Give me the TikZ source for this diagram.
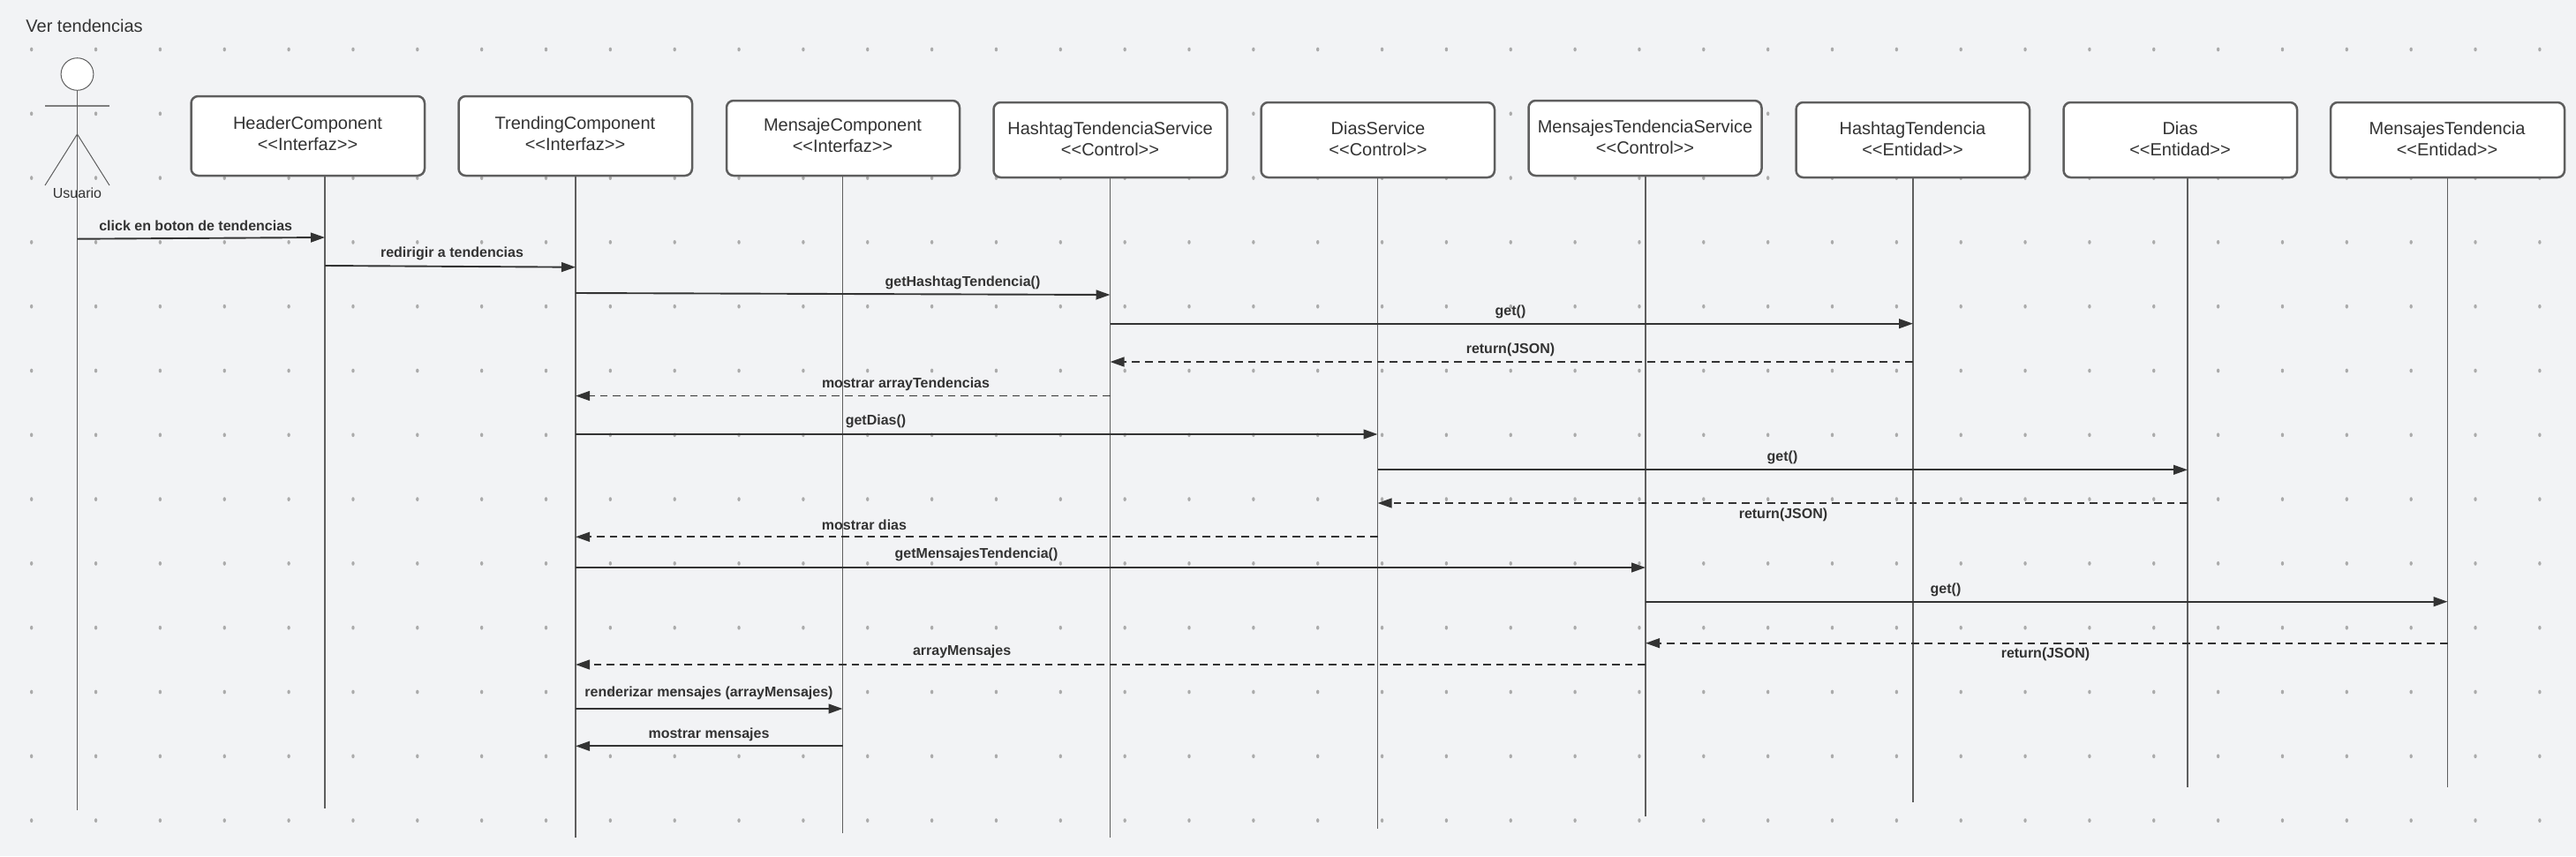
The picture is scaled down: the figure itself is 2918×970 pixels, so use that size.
\documentclass[tikz,border=0pt]{standalone}
\usepackage{fontspec}
\setmainfont{Liberation Sans}
\usetikzlibrary{arrows.meta}
\definecolor{bgc}{HTML}{F2F3F5}
\definecolor{inkc}{HTML}{333333}
\definecolor{linec}{HTML}{5E5E5E}
\definecolor{dotc}{HTML}{ABABAB}
\tikzset{
  x=0.5pt,y=-0.5pt,
  boxn/.style={draw=linec,line width=1.25pt,rounded corners=4pt,fill=white,inner sep=0pt},
  boxtxt/.style={text=inkc,align=center,font=\fontsize{10}{12}\selectfont,inner sep=0pt},
  titletxt/.style={text=inkc,font=\fontsize{10}{12}\selectfont,inner sep=0pt,anchor=west},
  actortxt/.style={text=inkc,font=\fontsize{8}{10}\selectfont,inner sep=0pt},
  msgtxt/.style={text=inkc,font=\bfseries\fontsize{8}{10}\selectfont,inner sep=0pt},
  lifeline/.style={draw=linec,line width=0.6pt},
  actorline/.style={draw=linec,line width=0.5pt},
  callmsg/.style={draw=inkc,line width=0.95pt,-{Triangle[length=8pt,width=5.4pt]}},
  retmsg/.style={draw=inkc,line width=0.95pt,dash pattern=on 4.3pt off 3pt,-{Triangle[length=8pt,width=5.4pt]}},
}
% id, x1,y1,x2,y2, text x, text y, line 1, line 2
\newcommand{\lifebox}[9]{%
  \node[boxn,minimum width={(#4-#2)*0.5pt},minimum height={(#5-#3)*0.5pt}] (#1) at ({(#2+#4)/2},{(#3+#5)/2}) {};
  \node[boxtxt] (#1t) at (#6,#7) {#8\\#9};
}
\newcommand{\life}[4]{%
  \coordinate (#1top) at (#2,#3);
  \coordinate (#1end) at (#2,#4);
  \draw[lifeline] (#1top) -- (#1end);
}
% id, style, from x,y, to x,y, label, label x,y
\newcommand{\msg}[9]{%
  \coordinate (#1a) at (#3,#4);
  \coordinate (#1b) at (#5,#6);
  \draw[#2] (#1a) -- (#1b);
  \node[msgtxt] (#1l) at (#8,{#9+1.5}) {#7};
}
\begin{document}
\begin{tikzpicture}
\useasboundingbox (0,0) rectangle (2918,970);
\fill[bgc] (0,0) rectangle (2918,970);
\foreach \i in {0,...,39}{
  \foreach \j in {0,...,12}{
    \fill[dotc] ({35.7+72.85*\i},{56+72.8*\j}) ellipse [x radius=1.7,y radius=2.4];
  }
}
\node[titletxt] (title) at (29,29) {Ver tendencias};
% actor
\draw[actorline,fill=white] (87.5,84) ellipse [x radius=18.4,y radius=18.3];
\coordinate (arml) at (51,120);
\coordinate (armr) at (124,120);
\coordinate (hip) at (87.5,152);
\coordinate (legl) at (51,210);
\coordinate (legr) at (124,210);
\draw[lifeline,line width=0.7pt,draw=linec!80] (arml) -- (armr);
\draw[actorline] (legl) -- (hip) -- (legr);
% lifelines
\life{la}{87.5}{102}{918}
\life{lb}{368}{199}{916}
\life{lc}{652}{199}{949}
\life{ld}{954.5}{199}{944}
\life{le}{1257.5}{201}{949}
\life{lf}{1560.5}{201}{938.5}
\life{lg}{1864}{199}{925}
\life{lh}{2167}{201}{908.5}
\life{li}{2478}{201}{892}
\life{lj}{2772.5}{201}{892}
\node[actortxt] (usuario) at (87.5,219) {Usuario};
% boxes
\lifebox{b1}{216.5}{109}{481}{199}{348.5}{151}{HeaderComponent}{<{}<Interfaz>{}>}
\lifebox{b2}{519.5}{109}{784}{199}{651.5}{151}{TrendingComponent}{<{}<Interfaz>{}>}
\lifebox{b3}{823}{114}{1087}{199}{954.5}{153}{MensajeComponent}{<{}<Interfaz>{}>}
\lifebox{b4}{1125.5}{116}{1390}{201}{1257.5}{157}{HashtagTendenciaService}{<{}<Control>{}>}
\lifebox{b5}{1428.5}{116}{1693}{201}{1561}{157}{DiasService}{<{}<Control>{}>}
\lifebox{b6}{1731.5}{114}{1995.5}{199}{1863.5}{155}{MensajesTendenciaService}{<{}<Control>{}>}
\lifebox{b7}{2034.5}{116}{2299}{201}{2166.5}{157}{HashtagTendencia}{<{}<Entidad>{}>}
\lifebox{b8}{2337.5}{116}{2602}{201}{2469.5}{157}{Dias}{<{}<Entidad>{}>}
\lifebox{b9}{2640}{116}{2905}{201}{2772}{157}{MensajesTendencia}{<{}<Entidad>{}>}
% messages
\msg{m1}{callmsg}{87.5}{270.7}{368}{269}{click en boton de tendencias}{221.7}{254.3}
\msg{m2}{callmsg}{368}{301}{652}{302.7}{redirigir a tendencias}{512}{286.3}
\msg{m3}{callmsg}{652}{332}{1257.5}{334}{getHashtagTendencia()}{1090.5}{318.5}
\msg{m4}{callmsg}{1257.5}{366.7}{2167}{366.7}{get()}{1711}{352}
\msg{m5}{retmsg}{2167}{410}{1257.5}{410}{return(JSON)}{1711}{394.7}
\msg{m6}{retmsg}{1257.5}{448.5}{652}{448.5}{mostrar arrayTendencias}{1026}{433.6}
\msg{m7}{callmsg}{652}{492}{1560.5}{492}{getDias()}{992}{476}
\msg{m8}{callmsg}{1560.5}{532.3}{2478}{532.3}{get()}{2019}{517}
\msg{m9}{retmsg}{2478}{570}{1560.5}{570}{return(JSON)}{2020}{582}
\msg{m10}{retmsg}{1560.5}{608.3}{652}{608.3}{mostrar dias}{979}{593.6}
\msg{m11}{callmsg}{652}{643}{1864}{643}{getMensajesTendencia()}{1106}{627}
\msg{m12}{callmsg}{1864}{681.7}{2772.5}{681.7}{get()}{2204}{667}
\msg{m13}{retmsg}{2772.5}{728.7}{1864}{728.7}{return(JSON)}{2317}{740}
\msg{m14}{retmsg}{1864}{753}{652}{753}{arrayMensajes}{1089.6}{737}
\msg{m15}{callmsg}{652}{803}{954.5}{803}{renderizar mensajes (arrayMensajes)}{803}{784}
\msg{m16}{callmsg}{954.5}{845.3}{652}{845.3}{mostrar mensajes}{803}{830.7}
\end{tikzpicture}
\end{document}
